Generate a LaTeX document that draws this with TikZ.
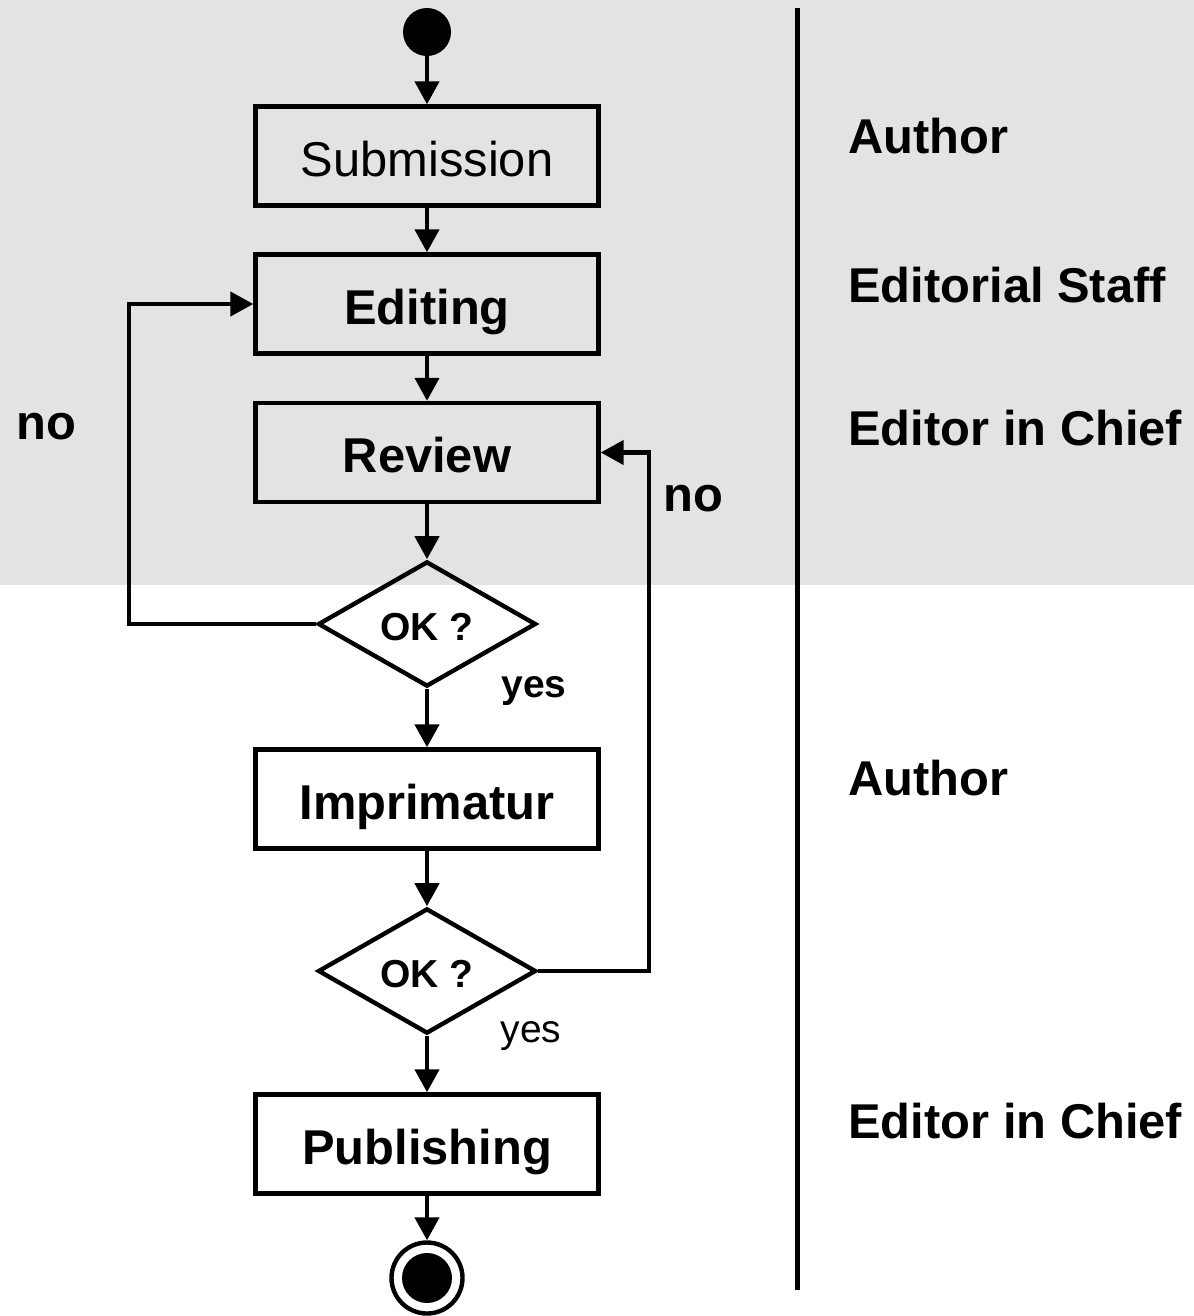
\documentclass[tikz,border=0pt]{standalone}
\usepackage{fontspec}
\setmainfont{Liberation Sans}
\usepackage{xcolor}
\usepackage{tikz}
\usetikzlibrary{arrows.meta,positioning,calc,shapes.geometric}

\definecolor{bandgray}{RGB}{227,227,227}
\newcommand{\bigtxt}{\fontsize{27.8}{33}\selectfont}
\newcommand{\smalltxt}{\fontsize{22.2}{26}\selectfont}

\tikzset{
  stepbox/.style={draw, line width=2.5pt, minimum width=6.86cm, minimum height=1.98cm,
    inner sep=0pt, text height=0.8cm, text depth=0pt, font=\bigtxt\bfseries},
  check/.style={diamond, draw, line width=2.5pt, minimum width=4.36cm, minimum height=2.48cm,
    inner sep=0pt, text height=0.64cm, text depth=0pt, font=\smalltxt\bfseries},
  flow/.style={line width=2.5pt, -{Triangle[length=0.46cm,width=0.48cm]}},
  role/.style={anchor=base west, inner sep=0pt, font=\bigtxt\bfseries},
  answer/.style={anchor=base, inner sep=0pt}
}

\begin{document}
\begin{tikzpicture}
  \useasboundingbox (0,0) rectangle (23.88,-26.32);
  \fill[bandgray] (0,0) rectangle (23.88,-11.7);
  \draw[line width=2.5pt] (15.95,-0.16) -- (15.95,-25.8);

  \node[circle, fill=black, minimum size=0.96cm, inner sep=0pt] (start) at (8.54,-0.64) {};
  \node[stepbox, font=\bigtxt] (submit) at (8.54,-3.12) {Submission};
  \node[stepbox] (edit) at (8.54,-6.08) {Editing};
  \node[stepbox] (review) at (8.54,-9.05) {Review};
  \node[check] (ok1) at (8.54,-12.48) {OK ?};
  \node[stepbox] (imprim) at (8.54,-15.98) {Imprimatur};
  \node[check] (ok2) at (8.54,-19.42) {OK ?};
  \node[stepbox] (publish) at (8.54,-22.88) {Publishing};
  \node[circle, draw, line width=2.5pt, minimum size=1.42cm, inner sep=0pt] (stop) at (8.54,-25.56) {};
  \fill (stop.center) circle (0.5);

  \coordinate (leftx) at (2.58,0);
  \coordinate (rightx) at (12.98,0);

  \draw[flow] (start) -- (submit);
  \draw[flow] (submit) -- (edit);
  \draw[flow] (edit) -- (review);
  \draw[flow] (review) -- (ok1);
  \draw[flow] (ok1) -- (imprim);
  \draw[flow] (imprim) -- (ok2);
  \draw[flow] (ok2) -- (publish);
  \draw[flow] (publish) -- (stop);
  \draw[flow] (ok1.west) -- (ok1.west -| leftx) |- (edit.west);
  \draw[flow] (ok2.east) -- (ok2.east -| rightx) |- (review.east);

  \node[answer, font=\bigtxt\bfseries] (noleft) at (0.92,-8.78) {no};
  \node[answer, font=\bigtxt\bfseries] (noright) at (13.87,-10.22) {no};
  \node[answer, font=\smalltxt\bfseries] (yesone) at (10.68,-13.94) {yes};
  \node[answer, font=\smalltxt] (yestwo) at (10.62,-20.84) {yes};

  \node[role] (author1) at (16.96,-3.06) {Author};
  \node[role] (staff) at (16.96,-6.04) {Editorial Staff};
  \node[role] (chief1) at (16.96,-8.9) {Editor in Chief};
  \node[role] (author2) at (16.96,-15.9) {Author};
  \node[role] (chief2) at (16.96,-22.76) {Editor in Chief};
\end{tikzpicture}
\end{document}
